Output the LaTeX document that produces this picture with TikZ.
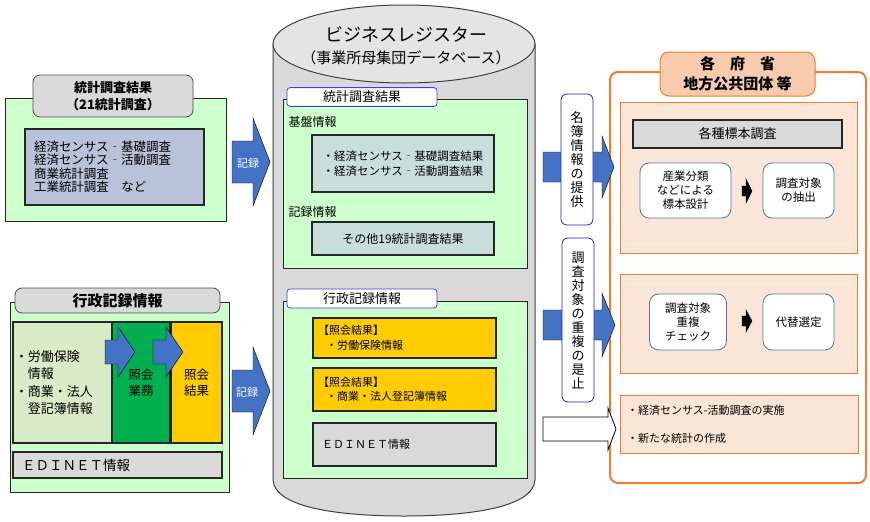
\documentclass[tikz,border=0pt]{standalone}
\usepackage{fontspec}
\setmainfont{Noto Sans CJK JP}
\usetikzlibrary{positioning}
\definecolor{paleGreen}{HTML}{CCFFCC}
\definecolor{titleGray}{HTML}{D9D9D9}
\definecolor{slateBox}{HTML}{B8C2D9}
\definecolor{sageBox}{HTML}{D8EAC6}
\definecolor{leafGreen}{HTML}{00B050}
\definecolor{goldBox}{HTML}{FFCC00}
\definecolor{tealBox}{HTML}{C9DEDB}
\definecolor{drumGray}{HTML}{D9D9D9}
\definecolor{drumTop}{HTML}{E4E4E4}
\definecolor{arrowBlue}{HTML}{4472C4}
\definecolor{tabBlue}{HTML}{4040D0}
\definecolor{labelBlue}{HTML}{2020D0}
\definecolor{orangeLine}{HTML}{F07D2D}
\definecolor{peach}{HTML}{F8CBAD}
\definecolor{peachPanel}{HTML}{FBE5D6}
\definecolor{steelLine}{HTML}{4A76A8}

% block arrow: [style] x-start, x-tip, y-centre, shaft half, head half, head length
\newcommand{\blockarr}[7][]{%
  \draw[#1] (#2,#4-#5) -- (#3-#7,#4-#5) -- (#3-#7,#4-#6) -- (#3,#4)
    -- (#3-#7,#4+#6) -- (#3-#7,#4+#5) -- (#2,#4+#5) -- cycle;}

\begin{document}
\begin{tikzpicture}[x=1pt, y=-1pt,
    every node/.style={font=\fontsize{12}{14}\selectfont},
    sz/.style 2 args={minimum width=#1pt, minimum height=#2pt},
    greenpanel/.style={draw=black!85, fill=paleGreen, line width=0.8pt},
    titlebox/.style={draw=black!70, fill=titleGray, rounded corners=7pt, line width=0.8pt},
    bevel/.style={draw=black!85, line width=1.2pt},
    tabbox/.style={draw=tabBlue, fill=white, rounded corners=3pt, line width=0.8pt,
        font=\fontsize{13}{15}\selectfont},
    vlabel/.style={draw=labelBlue, fill=white, rounded corners=6pt, line width=0.8pt,
        align=center, font=\fontsize{13}{14}\selectfont},
    orangebox/.style={draw=orangeLine, fill=white, rounded corners=8pt, line width=2pt},
    peachtab/.style={draw=orangeLine, fill=peach, rounded corners=9pt, line width=1pt},
    peachpanel/.style={draw=orangeLine, fill=peachPanel, line width=0.8pt},
    stepbox/.style={draw=steelLine, fill=white, rounded corners=9pt, line width=0.8pt,
        align=center, font=\fontsize{11.5}{14}\selectfont},
    arrowfill/.style={fill=arrowBlue}]
\useasboundingbox (0,0) rectangle (870,522);
\fill[white] (0,0) rectangle (870,522);

% survey results (left top)
\node[greenpanel, sz={221}{123}] (surveyPanel) at (115.5,159.5) {};
\node[titlebox, sz={160}{42}, align=center, font=\bfseries\fontsize{13}{17}\selectfont] (surveyTitle) at (113,96) {統計調査結果\\（21統計調査）};
\node[bevel, fill=slateBox, sz={179}{76}, inner xsep=9pt, text width=161pt, align=left,
    font=\fontsize{12.5}{13.5}\selectfont] (surveyList) at (114.5,167)
    {経済センサス‐基礎調査\\経済センサス‐活動調査\\商業統計調査\\工業統計調査　など};

% administrative records (left bottom)
\node[greenpanel, sz={219}{190}] (adminPanel) at (119.5,397) {};
\node[titlebox, sz={205}{25}, font=\bfseries\fontsize{15}{17}\selectfont] (adminTitle) at (117.5,300.5) {行政記録情報};
\node[bevel, fill=sageBox, sz={99}{121}, inner xsep=2pt, text width=95pt, align=left,
    font=\fontsize{13}{17.5}\selectfont] (registerInfo) at (62.5,382.5)
    {・労働保険\\\phantom{・}情報\\・商業・法人\\\phantom{・}登記簿情報};
\node[bevel, fill=leafGreen, sz={58}{121}, align=center, font=\fontsize{12.5}{16}\selectfont] (matchWork) at (141,382.5) {照会\\業務};
\node[bevel, fill=goldBox, sz={51}{121}, align=center, font=\fontsize{12.5}{16}\selectfont] (matchResult) at (196.5,382.5) {照会\\結果};
\blockarr[arrowfill]{105}{135}{352}{12}{25}{17}
\blockarr[arrowfill]{153}{183}{352}{12}{25}{17}
\node[bevel, fill=titleGray, sz={209}{26}, inner xsep=9pt, text width=191pt, align=left,
    font=\fontsize{13.5}{15}\selectfont] (edinetLeft) at (117.5,465) {ＥＤＩＮＥＴ情報};

% record arrows
\blockarr[arrowfill]{232}{270}{162}{21}{44}{17}
\node[white, font=\fontsize{11}{12}\selectfont] (recordTop) at (248,163) {記録};
\blockarr[arrowfill]{232}{270}{391}{21}{44}{17}
\node[white, font=\fontsize{11}{12}\selectfont] (recordBottom) at (247,392) {記録};

% business register drum
\filldraw[draw=black!75, fill=drumGray, line width=1pt] (273,44) -- (273,480)
    .. controls (275,508) and (340,516) .. (404,516)
    .. controls (468,516) and (533,508) .. (535,480) -- (535,44) -- cycle;
\filldraw[draw=black!75, fill=drumTop, line width=1pt] (404,44) ellipse [x radius=131, y radius=39];
\node[font=\fontsize{18}{20}\selectfont] (drumTitle) at (406,34) {ビジネスレジスター};
\node[font=\fontsize{15}{16}\selectfont] (drumSub) at (406,58) {（事業所母集団データベース）};

\node[greenpanel, sz={244}{169}] (statPanel) at (405,183.5) {};
\node[tabbox, sz={150}{18}] (statTab) at (362,97) {統計調査結果};
\node[anchor=west] (baseLabel) at (285,122) {基盤情報};
\node[bevel, fill=tealBox, sz={182}{57}, align=left, font=\fontsize{11.5}{15}\selectfont] (baseList) at (403,163.5)
    {・経済センサス‐基礎調査結果\\・経済センサス‐活動調査結果};
\node[anchor=west] (recLabel) at (285,212) {記録情報};
\node[bevel, fill=tealBox, sz={182}{33}] (otherList) at (403,238.5) {その他19統計調査結果};

\node[greenpanel, sz={244}{177}] (adminDbPanel) at (405,389.5) {};
\node[tabbox, sz={150}{19}] (adminTab) at (362,298.5) {行政記録情報};
\node[bevel, fill=goldBox, sz={183}{40}, inner xsep=5pt, text width=173pt, align=left,
    font=\fontsize{11}{14.5}\selectfont] (laborResult) at (404.5,338)
    {【照会結果】\\\hspace{8pt}・労働保険情報};
\node[bevel, fill=goldBox, sz={183}{43}, inner xsep=5pt, text width=173pt, align=left,
    font=\fontsize{11}{14.5}\selectfont] (corpResult) at (404.5,389.5)
    {【照会結果】\\\hspace{8pt}・商業・法人登記簿情報};
\node[bevel, fill=titleGray, sz={183}{43}, inner xsep=9pt, text width=165pt, align=left,
    font=\fontsize{11}{13}\selectfont] (edinetDb) at (404.5,444.5) {ＥＤＩＮＥＴ情報};

% ministries and local bodies (right)
\node[orangebox, sz={256}{411}] (agencyPanel) at (738,277.5) {};
\node[peachtab, sz={155}{44}, align=center, font=\bfseries\fontsize{15}{20}\selectfont] (agencyTitle) at (737.5,74)
    {各　府　省\\地方公共団体 等};

\node[peachpanel, sz={237}{151}] (samplePanel) at (738.5,177.5) {};
\node[bevel, fill=titleGray, sz={209}{28}, font=\fontsize{13}{15}\selectfont] (sampleBar) at (737.5,134) {各種標本調査};
\node[stepbox, sz={91}{55}] (designBox) at (685.5,190.5) {産業分類\\などによる\\標本設計};
\node[stepbox, sz={71}{55}] (extractBox) at (798.5,190.5) {調査対象\\の抽出};
\blockarr[fill=black]{742}{752}{191}{5}{12}{6}

\node[peachpanel, sz={237}{99}] (checkPanel) at (738.5,323.5) {};
\node[stepbox, sz={77}{56}] (checkBox) at (688,322) {調査対象\\重複\\チェック};
\node[stepbox, sz={71}{56}] (swapBox) at (798.5,322) {代替選定};
\blockarr[fill=black]{742}{752}{321}{5}{11}{6}

\node[peachpanel, sz={238}{58}, inner xsep=7pt, text width=224pt, align=left,
    font=\fontsize{11}{28}\selectfont] (outcomePanel) at (739,424)
    {・経済センサス-活動調査の実施\\・新たな統計の作成};

% hand-over arrows
\blockarr[arrowfill]{543}{614}{167}{15}{31}{12}
\blockarr[arrowfill]{543}{615}{325}{15}{32}{13}
\blockarr[draw=black, fill=white, line width=0.8pt]{543}{616}{429}{12}{21}{8}
\node[vlabel, sz={32}{131}] (rosterLabel) at (577,159.5) {名\\簿\\情\\報\\の\\提\\供};
\node[vlabel, sz={32}{164}] (dedupLabel) at (578,320) {調\\査\\対\\象\\の\\重\\複\\の\\是\\止};
\end{tikzpicture}
\end{document}
